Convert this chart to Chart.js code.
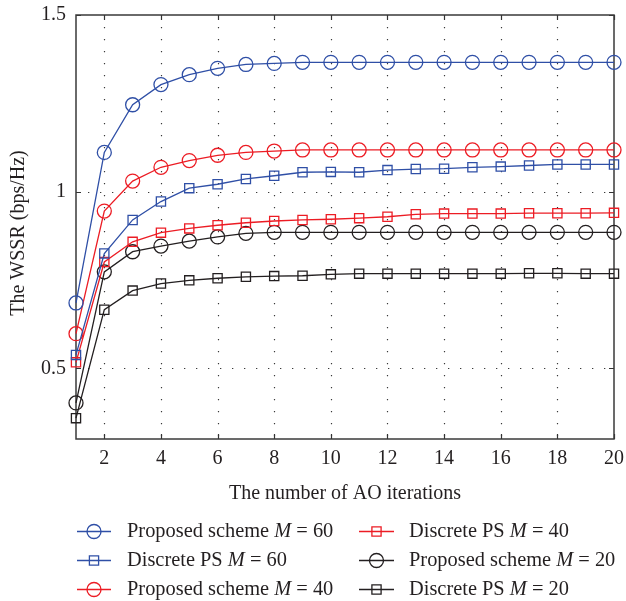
<!DOCTYPE html>
<html><head><meta charset="utf-8">
<script src="https://cdn.jsdelivr.net/npm/chart.js@4.4.0/dist/chart.umd.min.js"></script>
<style>html,body{margin:0;padding:0;background:#fff;}</style>
</head><body>
<canvas id="c" width="626" height="601"></canvas>
<script>
// ---- data ----
const iterations = [1,2,3,4,5,6,7,8,9,10,11,12,13,14,15,16,17,18,19,20];
const xTickValues = [2,4,6,8,10,12,14,16,18,20];
const yTickValues = [0.5,1,1.5];
const labels = [
  'Proposed scheme M = 60',
  'Discrete PS M = 60',
  'Proposed scheme M = 40',
  'Discrete PS M = 40',
  'Proposed scheme M = 20',
  'Discrete PS M = 20'
];
const proposed60 = [0.685,1.111,1.246,1.303,1.331,1.349,1.360,1.363,1.366,1.366,1.366,1.366,1.366,1.366,1.366,1.366,1.366,1.366,1.366,1.366];
const discrete60 = [0.538,0.825,0.920,0.972,1.010,1.021,1.036,1.045,1.055,1.056,1.055,1.061,1.064,1.065,1.069,1.071,1.074,1.077,1.077,1.077];
const proposed40 = [0.598,0.945,1.030,1.069,1.088,1.103,1.111,1.115,1.118,1.118,1.118,1.118,1.118,1.118,1.118,1.118,1.118,1.118,1.118,1.118];
const discrete40 = [0.517,0.801,0.858,0.884,0.896,0.905,0.912,0.917,0.920,0.922,0.925,0.929,0.936,0.938,0.938,0.938,0.939,0.939,0.939,0.940];
const proposed20 = [0.402,0.773,0.830,0.846,0.860,0.872,0.882,0.885,0.885,0.885,0.885,0.885,0.885,0.885,0.885,0.885,0.885,0.885,0.885,0.885];
const discrete20 = [0.359,0.666,0.720,0.740,0.749,0.755,0.759,0.761,0.762,0.766,0.768,0.768,0.768,0.768,0.768,0.768,0.769,0.769,0.768,0.768];

const BLUE = '#2f4fa6', RED = '#ec1c24', BLACK = '#231f20';
const FONT = "'Liberation Serif', 'Times New Roman', serif";
const TEXT = '#231f20';

function mk(label, values, color, style) {
  return {
    label: label,
    data: iterations.map((x, i) => ({x: x, y: values[i]})),
    borderColor: color,
    backgroundColor: 'rgba(0,0,0,0)',
    borderWidth: 1.3,
    pointStyle: style,
    pointRadius: style === 'circle' ? 7 : 6.5,
    pointBorderWidth: 1.3,
    pointBorderColor: color,
    pointBackgroundColor: 'rgba(0,0,0,0)',
    pointHoverRadius: 7,
    tension: 0,
    fill: false,
    clip: false
  };
}

const datasets = [
  mk(labels[0], proposed60, BLUE, 'circle'),
  mk(labels[1], discrete60, BLUE, 'rect'),
  mk(labels[2], proposed40, RED, 'circle'),
  mk(labels[3], discrete40, RED, 'rect'),
  mk(labels[4], proposed20, BLACK, 'circle'),
  mk(labels[5], discrete20, BLACK, 'rect')
];

const framePlugin = {
  id: 'frame',
  beforeDatasetsDraw(chart) {
    const {ctx, chartArea: a, scales: {x, y}} = chart;
    ctx.save();
    // dotted grid
    ctx.strokeStyle = '#3a3a3a';
    ctx.lineWidth = 1.2;
    ctx.setLineDash([1.3, 10.7]);
    xTickValues.forEach(v => {
      if (v >= 20) return;
      const px = Math.round(x.getPixelForValue(v)) + 0.5;
      ctx.beginPath(); ctx.moveTo(px, a.top); ctx.lineTo(px, a.bottom); ctx.stroke();
    });
    yTickValues.forEach(v => {
      if (v >= 1.5) return;
      const py = Math.round(y.getPixelForValue(v)) + 0.5;
      ctx.beginPath(); ctx.moveTo(a.left, py); ctx.lineTo(a.right, py); ctx.stroke();
    });
    ctx.setLineDash([]);
    // inward ticks
    ctx.strokeStyle = '#333';
    ctx.lineWidth = 1.2;
    const L = 5;
    xTickValues.forEach(v => {
      const px = Math.round(x.getPixelForValue(v)) + 0.5;
      ctx.beginPath();
      ctx.moveTo(px, a.bottom); ctx.lineTo(px, a.bottom - L);
      ctx.moveTo(px, a.top); ctx.lineTo(px, a.top + L);
      ctx.stroke();
    });
    yTickValues.forEach(v => {
      const py = Math.round(y.getPixelForValue(v)) + 0.5;
      ctx.beginPath();
      ctx.moveTo(a.left, py); ctx.lineTo(a.left + L, py);
      ctx.moveTo(a.right, py); ctx.lineTo(a.right - L, py);
      ctx.stroke();
    });
    // box
    ctx.strokeStyle = '#3a3a3a';
    ctx.lineWidth = 1.5;
    ctx.strokeRect(a.left, a.top, a.right - a.left, a.bottom - a.top);
    ctx.restore();
  },
  afterDraw(chart) {
    const {ctx} = chart;
    ctx.save();
    // y-axis title
    ctx.fillStyle = TEXT;
    ctx.font = '20px ' + FONT;
    ctx.textAlign = 'center';
    ctx.textBaseline = 'middle';
    ctx.translate(19, 233);
    ctx.rotate(-Math.PI / 2);
    ctx.fillText('The WSSR (bps/Hz)', 0, 0);
    ctx.restore();

    // legend (two columns, three rows)
    const cols = [
      {l0: 77, l1: 111, m: 94, t: 127},
      {l0: 359, l1: 394, m: 376.5, t: 409}
    ];
    const rows = [531.5, 560.5, 589.5];
    chart.data.datasets.forEach((ds, i) => {
      const c = cols[Math.floor(i / 3)];
      const yy = rows[i % 3];
      ctx.save();
      ctx.strokeStyle = ds.borderColor;
      ctx.lineWidth = 1.3;
      ctx.beginPath(); ctx.moveTo(c.l0, yy); ctx.lineTo(c.l1, yy); ctx.stroke();
      ctx.beginPath();
      if (ds.pointStyle === 'circle') {
        ctx.arc(c.m, yy, 7, 0, Math.PI * 2);
      } else {
        const s = ds.pointRadius * Math.SQRT1_2;
        ctx.rect(c.m - s, yy - s, 2 * s, 2 * s);
      }
      ctx.stroke();
      // text with italic M
      const m = ds.label.match(/^(.*) M (.*)$/);
      ctx.fillStyle = TEXT;
      ctx.textBaseline = 'middle';
      ctx.textAlign = 'left';
      let tx = c.t;
      const ty = yy + 0.5;
      const reg = '20.4px ' + FONT, ital = 'italic 20.4px ' + FONT;
      const parts = [[m[1] + ' ', reg], ['M', ital], [' ' + m[2], reg]];
      parts.forEach(([s, f]) => {
        ctx.font = f;
        ctx.fillText(s, tx, ty);
        tx += ctx.measureText(s).width;
      });
      ctx.restore();
    });
  }
};

new Chart(document.getElementById('c'), {
  type: 'line',
  data: {datasets: datasets},
  options: {
    responsive: false,
    animation: false,
    devicePixelRatio: 1,
    layout: {padding: {left: 0, right: 12, top: 15, bottom: 95}},
    plugins: {legend: {display: false}, tooltip: {enabled: false}},
    scales: {
      x: {
        type: 'linear',
        min: 1, max: 20,
        afterBuildTicks: s => { s.ticks = xTickValues.map(v => ({value: v})); },
        afterFit: s => { s.height = 67; s.paddingLeft = 0; s.paddingRight = 0; },
        grid: {display: false, drawTicks: false},
        border: {display: false},
        ticks: {
          color: TEXT, font: {family: FONT, size: 20}, padding: 8,
          maxRotation: 0, autoSkip: false,
          callback: v => String(v)
        },
        title: {
          display: true, text: 'The number of AO iterations',
          color: TEXT, font: {family: FONT, size: 20, lineHeight: 1.2},
          padding: {top: 0, bottom: 0}
        }
      },
      y: {
        type: 'linear',
        min: 0.3, max: 1.5,
        afterBuildTicks: s => { s.ticks = yTickValues.map(v => ({value: v})); },
        afterFit: s => { s.width = 76; s.paddingTop = 0; s.paddingBottom = 0; },
        grid: {display: false, drawTicks: false},
        border: {display: false},
        ticks: {
          color: TEXT, font: {family: FONT, size: 20}, padding: 10,
          autoSkip: false,
          callback: v => String(v)
        }
      }
    }
  },
  plugins: [framePlugin]
});
</script>
</body></html>
